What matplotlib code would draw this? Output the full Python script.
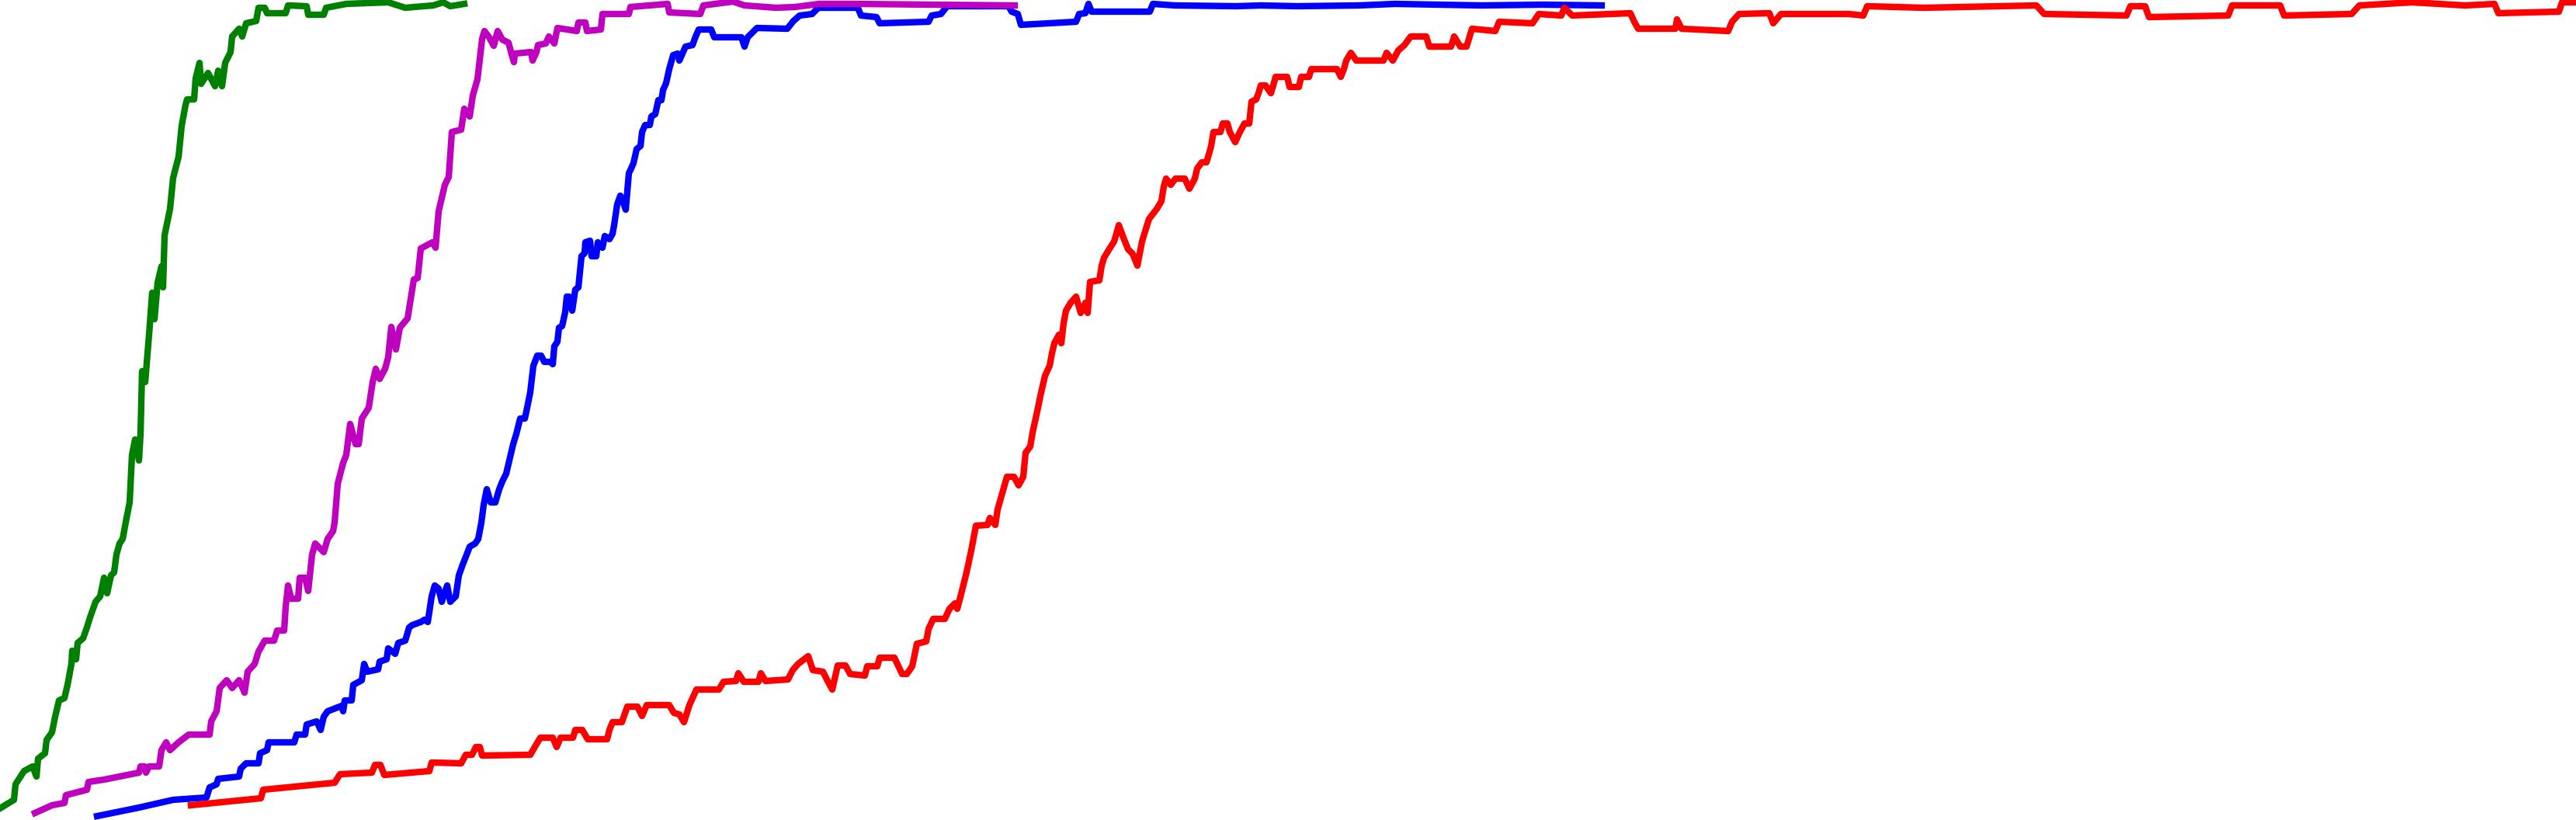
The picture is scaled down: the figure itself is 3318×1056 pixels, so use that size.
import matplotlib
matplotlib.use("Agg")
import matplotlib.pyplot as plt

# curves (x in steps, y in score units)
green_x = [0, 18, 20, 31, 42, 47, 49, 58, 60, 67, 71, 76, 83, 87, 92, 93, 98, 100, 107, 112,
           116, 121, 123, 129, 134, 138, 143, 147, 150, 154, 158, 163, 167, 170, 174, 179, 181,
           183, 187, 192, 196, 199, 203, 208, 210, 212, 219, 223, 230, 234, 239, 241, 250, 252,
           257, 259, 268, 277, 281, 286, 290, 297, 299, 308, 312, 317, 330, 333, 341, 344, 368,
           371, 395, 397, 417, 420, 446, 500, 522, 558, 571, 580, 598]
green_y = [15, 26, 46, 63, 69, 56, 79, 86, 103, 113, 133, 154, 157, 174, 201, 218, 207, 228, 234, 248,
           261, 275, 281, 288, 312, 292, 315, 319, 342, 356, 362, 389, 409, 470, 490, 463, 497,
           578, 564, 625, 679, 645, 692, 713, 686, 753, 787, 827, 854, 894, 921, 928, 928, 955,
           975, 948, 962, 945, 965, 945, 975, 989, 1009, 1019, 1009, 1026, 1029, 1046, 1046, 1039, 1039,
           1049, 1048, 1037, 1037, 1046, 1051, 1053, 1046, 1049, 1053, 1048, 1051]

magenta_x = [45, 67, 83, 85, 112, 114, 134, 179, 181, 186, 188, 192, 205, 208, 214, 219, 230, 243,
             270, 272, 279, 283, 292, 299, 308, 315, 319, 328, 333, 341, 353, 357, 366, 368, 371,
             375, 384, 386, 393, 397, 402, 406, 417, 422, 429, 431, 435, 442, 446, 451, 458, 462,
             466, 475, 480, 484, 489, 496, 500, 504, 510, 515, 525, 533, 538, 542, 557, 561, 565,
             573, 578, 582, 594, 598, 605, 609, 615, 621, 624, 630, 636, 641, 647, 655, 659, 662,
             663, 684, 686, 691, 693, 703, 707, 714, 718, 743, 745, 754, 756, 774, 776, 810, 812,
             860, 862, 902, 906, 944, 959, 1000, 1024, 1055, 1100, 1200, 1307]
magenta_y = [9, 19, 22, 32, 39, 49, 52, 61, 69, 69, 61, 69, 69, 90, 100, 90, 100, 110,
             110, 127, 140, 170, 180, 170, 180, 164, 191, 201, 217, 231, 231, 244, 244, 275, 302,
             285, 285, 312, 312, 295, 342, 356, 345, 362, 372, 383, 433, 460, 470, 510, 484, 484,
             517, 531, 564, 581, 568, 581, 596, 635, 606, 634, 646, 696, 698, 736, 744, 737, 784,
             818, 828, 886, 889, 916, 906, 933, 954, 1006, 1016, 1008, 997, 1016, 1005, 1001, 986, 976,
             987, 989, 978, 989, 998, 1000, 1009, 1000, 1020, 1016, 1027, 1027, 1016, 1018, 1038, 1038, 1047,
             1051, 1040, 1038, 1049, 1054, 1049, 1046, 1047, 1051, 1051, 1050, 1049]

blue_x = [125, 179, 223, 266, 270, 279, 281, 308, 310, 317, 333, 335, 344, 346, 379, 382, 393, 395,
          408, 413, 417, 422, 440, 442, 444, 453, 455, 466, 469, 473, 487, 489, 498, 500, 509, 513,
          522, 527, 531, 542, 547, 551, 556, 560, 565, 569, 576, 580, 587, 591, 596, 600, 605, 612,
          616, 620, 623, 627, 632, 638, 643, 647, 652, 656, 661, 665, 670, 676, 679, 683, 687, 692,
          697, 701, 709, 712, 714, 718, 720, 724, 728, 730, 733, 737, 741, 745, 749, 753, 754, 760,
          762, 768, 770, 776, 779, 785, 789, 791, 795, 799, 802, 806, 810, 812, 816, 820, 825, 827,
          831, 837, 839, 844, 848, 852, 854, 858, 862, 867, 873, 875, 879, 883, 892, 896, 900, 916,
          920, 955, 959, 963, 975, 1014, 1022, 1030, 1046, 1054, 1105, 1109, 1129, 1133, 1196, 1200,
          1212, 1220, 1299, 1303, 1311, 1315, 1386, 1390, 1398, 1402, 1406, 1481, 1485, 1513, 1592,
          1624, 1671, 1750, 1797, 1908, 1987, 2063]
blue_y = [5, 16, 26, 29, 42, 46, 53, 56, 66, 73, 73, 86, 90, 100, 100, 110, 110, 123,
          127, 116, 133, 140, 147, 140, 154, 154, 174, 180, 201, 191, 194, 204, 207, 221, 214, 228,
          231, 248, 251, 255, 258, 255, 288, 302, 298, 281, 302, 281, 288, 315, 329, 339, 352, 356,
          362, 383, 406, 426, 409, 409, 426, 436, 446, 463, 484, 497, 517, 517, 531, 551, 585, 598,
          598, 590, 590, 587, 610, 616, 634, 636, 654, 674, 674, 656, 683, 686, 726, 730, 744, 746,
          726, 726, 744, 737, 752, 748, 755, 766, 793, 804, 797, 786, 833, 837, 846, 864, 868, 886,
          895, 895, 906, 909, 927, 927, 940, 949, 967, 985, 987, 978, 987, 996, 998, 1009, 1018, 1018,
          1008, 1008, 996, 1008, 1020, 1019, 1029, 1036, 1038, 1046, 1046, 1036, 1034, 1026, 1028, 1036,
          1038, 1048, 1048, 1041, 1038, 1024, 1028, 1038, 1039, 1051, 1041, 1041, 1051, 1049, 1048,
          1049, 1048, 1049, 1051, 1049, 1050, 1049]

red_x = [246, 336, 339, 431, 438, 479, 483, 490, 495, 553, 556, 594, 600, 608, 613, 618, 621, 683,
         690, 696, 712, 717, 722, 738, 741, 750, 757, 782, 785, 789, 801, 808, 821, 827, 833, 862,
         868, 875, 881, 888, 897, 926, 932, 948, 951, 958, 977, 980, 986, 1015, 1021, 1028, 1041,
         1047, 1060, 1066, 1072, 1079, 1089, 1095, 1114, 1117, 1130, 1133, 1152, 1162, 1168, 1175,
         1181, 1193, 1196, 1202, 1217, 1223, 1230, 1233, 1239, 1245, 1251, 1254, 1257, 1272, 1275,
         1282, 1285, 1291, 1297, 1306, 1312, 1318, 1321, 1327, 1330, 1337, 1340, 1346, 1352, 1355,
         1358, 1364, 1367, 1370, 1373, 1379, 1386, 1392, 1398, 1401, 1404, 1416, 1419, 1422, 1428,
         1435, 1438, 1441, 1447, 1453, 1459, 1465, 1471, 1474, 1480, 1490, 1496, 1499, 1502, 1508,
         1514, 1526, 1532, 1539, 1542, 1548, 1554, 1557, 1560, 1563, 1572, 1575, 1581, 1584, 1591,
         1597, 1603, 1609, 1612, 1618, 1621, 1624, 1630, 1637, 1640, 1643, 1658, 1661, 1673, 1676,
         1686, 1689, 1722, 1727, 1731, 1734, 1740, 1747, 1782, 1786, 1794, 1801, 1809, 1817, 1837,
         1841, 1869, 1873, 1881, 1889, 1896, 1926, 1931, 1974, 1982, 2011, 2015, 2025, 2100, 2105,
         2110, 2158, 2160, 2166, 2226, 2231, 2240, 2279, 2284, 2294, 2381, 2400, 2405, 2478, 2623,
         2633, 2739, 2744, 2763, 2768, 2870, 2875, 2937, 2942, 3029, 3039, 3107, 3175, 3213, 3218,
         3296, 3300, 3318]
red_y = [19, 28, 39, 48, 59, 61, 71, 71, 58, 63, 74, 73, 84, 84, 94, 94, 83, 84,
         96, 106, 106, 94, 106, 106, 116, 116, 104, 104, 116, 126, 126, 146, 146, 134, 148, 148,
         138, 136, 126, 148, 168, 168, 178, 179, 189, 178, 178, 189, 179, 181, 193, 201, 211,
         193, 191, 179, 168, 199, 199, 188, 186, 198, 198, 209, 209, 188, 188, 198,
         227, 230, 246, 259, 259, 272, 279, 272, 295, 319, 347, 363, 379, 380, 389,
         380, 400, 421, 442, 442, 431, 442, 473, 481, 499, 531, 546, 572, 585, 601,
         614, 625, 614, 640, 656, 666, 674, 653, 666, 653, 693, 695, 714, 724, 734,
         745, 755, 766, 750, 735, 729, 714, 745, 755, 774, 787, 797, 816, 826, 818,
         826, 826, 813, 826, 839, 847, 847, 857, 868, 886, 886, 897, 897, 886, 873,
         886, 897, 897, 925, 928, 936, 946, 946, 936, 946, 957, 957, 944, 944, 957,
         957, 967, 967, 957, 967, 978, 988, 978, 978, 988, 978, 991, 998, 1009, 1009,
         996, 996, 1009, 996, 996, 1019, 1016, 1028, 1026, 1038, 1036, 1046, 1036, 1039, 1028,
         1019, 1019, 1031, 1019, 1016, 1028, 1038, 1039, 1026, 1038, 1038, 1036, 1048, 1046, 1049,
         1038, 1036, 1048, 1048, 1034, 1036, 1049, 1049, 1036, 1038, 1049, 1053, 1049, 1051, 1039,
         1041, 1053, 1053]

fig = plt.figure(figsize=(33.18, 10.56), dpi=100)
ax = fig.add_axes([0, 0, 1, 1])

lw = 6
ax.plot(blue_x, blue_y, color="b", lw=lw)
ax.plot(magenta_x, magenta_y, color="m", lw=lw)
ax.plot(green_x, green_y, color="g", lw=lw)
ax.plot(red_x, red_y, color="r", lw=lw)

ax.set_xlim(0, 3318)
ax.set_ylim(0, 1056)
ax.axis("off")

fig.savefig("out.png", dpi=100)
plt.close(fig)
